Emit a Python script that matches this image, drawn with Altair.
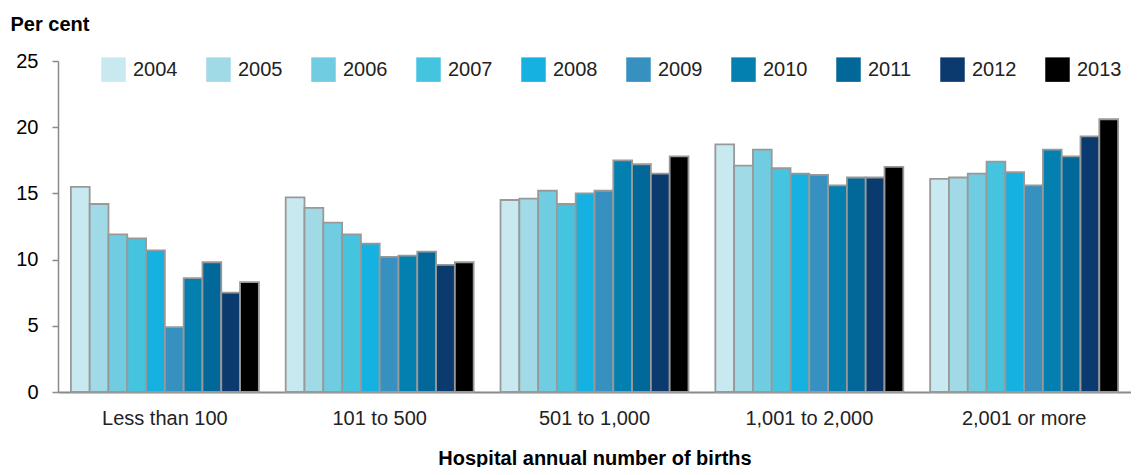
import altair as alt
import pandas as pd

groups = ["Less than 100", "101 to 500", "501 to 1,000", "1,001 to 2,000", "2,001 or more"]
years = ["2004", "2005", "2006", "2007", "2008", "2009", "2010", "2011", "2012", "2013"]
colors = ["#c9e9f0", "#a0dae6", "#70cce0", "#45c4e0", "#14b1e1",
          "#3690c0", "#0480b0", "#02689a", "#0a3a6e", "#000000"]

less_than_100 = [15.5, 14.2, 11.9, 11.6, 10.7, 4.9, 8.6, 9.8, 7.5, 8.3]
from_101_to_500 = [14.7, 13.9, 12.8, 11.9, 11.2, 10.2, 10.3, 10.6, 9.6, 9.8]
from_501_to_1000 = [14.5, 14.6, 15.2, 14.2, 15.0, 15.2, 17.5, 17.2, 16.5, 17.8]
from_1001_to_2000 = [18.7, 17.1, 18.3, 16.9, 16.5, 16.4, 15.6, 16.2, 16.2, 17.0]
over_2001 = [16.1, 16.2, 16.5, 17.4, 16.6, 15.6, 18.3, 17.8, 19.3, 20.6]

series = [less_than_100, from_101_to_500, from_501_to_1000, from_1001_to_2000, over_2001]
rows = []
for g, vals in zip(groups, series):
    for y, v in zip(years, vals):
        rows.append({"group": g, "year": y, "value": v})
df = pd.DataFrame(rows)

FONT = "Liberation Sans"

chart = alt.Chart(df).mark_bar(stroke="#999999", strokeWidth=1.8).encode(
    x=alt.X("group:N", sort=groups,
            scale=alt.Scale(paddingInner=0.125, paddingOuter=0.06),
            axis=alt.Axis(title="Hospital annual number of births", labelAngle=0,
                          ticks=False, domainColor="#8a8a8a", domainWidth=2,
                          labelFontSize=20, labelColor="#222222", labelPadding=16,
                          titleFontSize=20, titleFontWeight="bold", titleColor="#000000",
                          titleY=66, titleBaseline="middle")),
    xOffset=alt.XOffset("year:N", sort=years, scale=alt.Scale(paddingInner=0, paddingOuter=0)),
    y=alt.Y("value:Q", scale=alt.Scale(domain=[0, 25], nice=False),
            axis=alt.Axis(values=[0, 5, 10, 15, 20, 25], grid=False,
                          domainColor="#8a8a8a", domainWidth=1.5,
                          tickColor="#8a8a8a", tickSize=6, tickWidth=1.5,
                          labelFontSize=20, labelColor="#000000", labelPadding=14,
                          title="Per cent", titleAngle=0, titleAlign="left",
                          titleBaseline="middle", titleX=-48, titleY=-37,
                          titleFontSize=20, titleFontWeight="bold", titleColor="#000000")),
    color=alt.Color("year:N", sort=years, scale=alt.Scale(domain=years, range=colors),
                    legend=alt.Legend(title=None, orient="none", legendX=43, legendY=-4,
                                      direction="horizontal", columns=10,
                                      symbolType="square", symbolSize=600,
                                      symbolStrokeWidth=0, symbolOpacity=1,
                                      labelFontSize=20, labelColor="#222222",
                                      labelOffset=7, columnPadding=28)),
).properties(
    width=1073, height=331,
    autosize=alt.AutoSizeParams(type="none"),
    padding={"left": 50, "top": 53, "right": 0, "bottom": 75},
).configure(font=FONT).configure_view(stroke=None)

chart.save("out.html", embed_options={"renderer": "svg", "actions": False})
